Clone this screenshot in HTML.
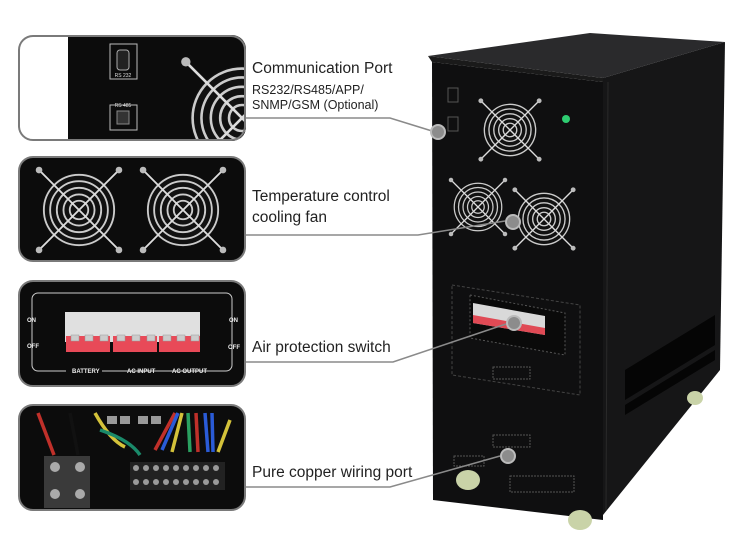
<!DOCTYPE html>
<html><head><meta charset="utf-8"><style>
html,body{margin:0;padding:0;background:#fff;width:750px;height:556px;overflow:hidden}
text{font-family:"Liberation Sans",Arial,sans-serif}
</style></head><body>
<svg width="750" height="556" viewBox="0 0 750 556" xmlns="http://www.w3.org/2000/svg">
<defs>
<g id="fan">
 <circle r="1" fill="#111"/>
 <circle r="0.95" fill="none" stroke="#ccc" stroke-width="0.05"/>
 <circle r="0.78" fill="none" stroke="#ccc" stroke-width="0.05"/>
 <circle r="0.6" fill="none" stroke="#ccc" stroke-width="0.05"/>
 <circle r="0.42" fill="none" stroke="#ccc" stroke-width="0.05"/>
 <circle r="0.25" fill="none" stroke="#ccc" stroke-width="0.05"/>
 <line x1="-1.05" y1="-1.05" x2="1.05" y2="1.05" stroke="#ddd" stroke-width="0.05"/>
 <line x1="1.05" y1="-1.05" x2="-1.05" y2="1.05" stroke="#ddd" stroke-width="0.05"/>
 <circle cx="-1.08" cy="-1.08" r="0.09" fill="#bbb"/><circle cx="1.08" cy="-1.08" r="0.09" fill="#bbb"/>
 <circle cx="-1.08" cy="1.08" r="0.09" fill="#bbb"/><circle cx="1.08" cy="1.08" r="0.09" fill="#bbb"/>
</g>
<clipPath id="c1"><rect x="18" y="35" width="228" height="106" rx="14"/></clipPath>
</defs>

<polygon points="428,56 590,33 725,42 603,78" fill="#2a2a2c"/>
<polygon points="428,56 603,78 603,82 432,62" fill="#1a1a1a"/>
<polygon points="603,78 725,42 720,370 603,515" fill="#161617"/>
<polygon points="432,62 603,82 603,520 433,500" fill="#0f0f10"/>
<line x1="608" y1="82" x2="606" y2="510" stroke="#2a2a2a" stroke-width="1"/>
<g fill="#050505">
 <polygon points="625,370 715,315 715,345 625,400"/>
 <polygon points="625,405 715,350 715,360 625,415"/>
</g>
<use href="#fan" transform="translate(510,130) scale(27)"/>
<use href="#fan" transform="translate(478,207) scale(25)"/>
<use href="#fan" transform="translate(544,219) scale(27)"/>
<circle cx="566" cy="119" r="4" fill="#2ecc71"/>
<rect x="448" y="88" width="10" height="14" fill="none" stroke="#555" stroke-width="1"/>
<rect x="448" y="117" width="10" height="14" fill="none" stroke="#555" stroke-width="1"/>
<polygon points="452,285 580,305 580,395 452,375" fill="none" stroke="#444" stroke-dasharray="3,2"/>
<polygon points="470,295 565,313 565,355 470,338" fill="#0a0a0a" stroke="#555" stroke-dasharray="2,2"/>
<polygon points="473,303 545,316 545,335 473,323" fill="#d9d9d9"/>
<polygon points="473,315 545,328 545,335 473,323" fill="#e04a55"/>
<rect x="493" y="367" width="37" height="12" fill="none" stroke="#555" stroke-dasharray="2,1"/>
<rect x="493" y="435" width="37" height="12" fill="none" stroke="#555" stroke-dasharray="2,1"/>
<rect x="454" y="456" width="30" height="10" fill="none" stroke="#555" stroke-dasharray="2,1"/>
<rect x="510" y="476" width="64" height="16" fill="none" stroke="#555" stroke-dasharray="2,1"/>
<ellipse cx="468" cy="480" rx="12" ry="10" fill="#c9d3a8"/>
<ellipse cx="580" cy="520" rx="12" ry="10" fill="#c9d3a8"/>
<ellipse cx="695" cy="398" rx="8" ry="7" fill="#c9d3a8"/>

<g stroke="#8a8a8a" stroke-width="1.6" fill="none">
 <polyline points="246,118 390,118 432,131"/>
 <polyline points="246,235 418,235 505,221"/>
 <polyline points="246,362 393,362 506,324"/>
 <polyline points="246,487 390,487 500,456"/>
</g>
<g fill="#8c8c8c" stroke="#bbb" stroke-width="2">
 <circle cx="438" cy="132" r="7"/>
 <circle cx="513" cy="222" r="7"/>
 <circle cx="514" cy="323" r="7"/>
 <circle cx="508" cy="456" r="7"/>
</g>

<g clip-path="url(#c1)">
 <rect x="18" y="35" width="228" height="106" fill="#fff"/>
 <rect x="68" y="35" width="178" height="106" fill="#0c0c0c"/>
 <use href="#fan" transform="translate(242,118) scale(52)"/>
 <rect x="110" y="44" width="27" height="35" fill="none" stroke="#bbb" stroke-width="1"/>
 <rect x="117" y="50" width="12" height="20" rx="3" fill="#222" stroke="#aaa"/>
 <text x="123" y="77" font-size="5" fill="#ddd" text-anchor="middle">RS 232</text>
 <rect x="110" y="105" width="27" height="25" fill="none" stroke="#bbb" stroke-width="1"/>
 <rect x="117" y="111" width="12" height="13" fill="#333" stroke="#888"/>
 <text x="123" y="107" font-size="5" fill="#ddd" text-anchor="middle">RS 485</text>
</g>
<rect x="19" y="36" width="226" height="104" rx="14" fill="none" stroke="#7a7a7a" stroke-width="2"/>

<rect x="19" y="157" width="226" height="104" rx="14" fill="#0c0c0c" stroke="#7a7a7a" stroke-width="2"/>
<use href="#fan" transform="translate(79,210) scale(37)"/>
<use href="#fan" transform="translate(183,210) scale(37)"/>

<rect x="19" y="281" width="226" height="105" rx="14" fill="#0c0c0c" stroke="#7a7a7a" stroke-width="2"/>
<rect x="32" y="293" width="200" height="78" rx="6" fill="none" stroke="#ccc" stroke-width="1"/>
<rect x="65" y="312" width="135" height="30" fill="#e0e0e0"/>
<g fill="#e84a58">
 <rect x="66" y="336" width="44" height="16"/><rect x="113" y="336" width="44" height="16"/><rect x="159" y="336" width="41" height="16"/>
</g>
<g fill="#ccc" stroke="#999" stroke-width="0.5">
 <rect x="71" y="335" width="8" height="6"/><rect x="85" y="335" width="8" height="6"/><rect x="100" y="335" width="8" height="6"/>
 <rect x="117" y="335" width="8" height="6"/><rect x="132" y="335" width="8" height="6"/><rect x="147" y="335" width="8" height="6"/>
 <rect x="163" y="335" width="8" height="6"/><rect x="177" y="335" width="8" height="6"/><rect x="191" y="335" width="8" height="6"/>
</g>
<g font-size="6" font-weight="bold" fill="#eee">
 <text x="27" y="322">ON</text><text x="27" y="348">OFF</text>
 <text x="229" y="322">ON</text><text x="228" y="349">OFF</text>
 <rect x="66" y="368" width="36" height="6" fill="#0c0c0c"/>
 <text x="72" y="373">BATTERY</text><text x="127" y="373">AC INPUT</text><text x="172" y="373">AC OUTPUT</text>
</g>

<rect x="19" y="405" width="226" height="105" rx="14" fill="#0c0c0c" stroke="#7a7a7a" stroke-width="2"/>
<rect x="44" y="456" width="46" height="52" fill="#3a3a3a"/>
<g fill="#aaa"><circle cx="55" cy="467" r="5"/><circle cx="80" cy="467" r="5"/><circle cx="55" cy="494" r="5"/><circle cx="80" cy="494" r="5"/></g>
<g stroke-width="3.5" fill="none">
 <path d="M38,413 L54,455" stroke="#c0302a"/>
 <path d="M70,413 L78,455" stroke="#111"/>
 <path d="M95,413 Q110,440 125,447" stroke="#d4c23a"/>
 <path d="M100,430 Q130,440 140,455" stroke="#1a8a6a"/>
 <path d="M175,413 L155,450" stroke="#c0302a"/>
 <path d="M178,413 L162,450" stroke="#2a5bd7"/>
 <path d="M182,413 L172,452" stroke="#d4c23a"/>
 <path d="M188,413 L190,452" stroke="#2aa060"/>
 <path d="M196,413 L198,452" stroke="#c0302a"/>
 <path d="M205,413 L208,452" stroke="#2a5bd7"/>
 <path d="M212,413 L213,452" stroke="#2a5bd7"/>
 <path d="M230,420 L218,452" stroke="#d4c23a"/>
</g>
<rect x="130" y="462" width="95" height="28" fill="#222"/>
<g fill="#999">
 <circle cx="136" cy="468" r="3"/><circle cx="146" cy="468" r="3"/><circle cx="156" cy="468" r="3"/><circle cx="166" cy="468" r="3"/><circle cx="176" cy="468" r="3"/><circle cx="186" cy="468" r="3"/><circle cx="196" cy="468" r="3"/><circle cx="206" cy="468" r="3"/><circle cx="216" cy="468" r="3"/>
 <circle cx="136" cy="482" r="3"/><circle cx="146" cy="482" r="3"/><circle cx="156" cy="482" r="3"/><circle cx="166" cy="482" r="3"/><circle cx="176" cy="482" r="3"/><circle cx="186" cy="482" r="3"/><circle cx="196" cy="482" r="3"/><circle cx="206" cy="482" r="3"/><circle cx="216" cy="482" r="3"/>
 <rect x="107" y="416" width="10" height="8"/><rect x="120" y="416" width="10" height="8"/><rect x="138" y="416" width="10" height="8"/><rect x="151" y="416" width="10" height="8"/>
</g>

<g fill="#222">
 <text x="252" y="73" font-size="15.5">Communication Port</text>
 <text x="252" y="94" font-size="12.5">RS232/RS485/APP/</text>
 <text x="252" y="109" font-size="12.5">SNMP/GSM (Optional)</text>
 <text x="252" y="201" font-size="15.5">Temperature control</text>
 <text x="252" y="222" font-size="15.5">cooling fan</text>
 <text x="252" y="352" font-size="15.5">Air protection switch</text>
 <text x="252" y="477" font-size="15.5">Pure copper wiring port</text>
</g>
</svg>
</body></html>
